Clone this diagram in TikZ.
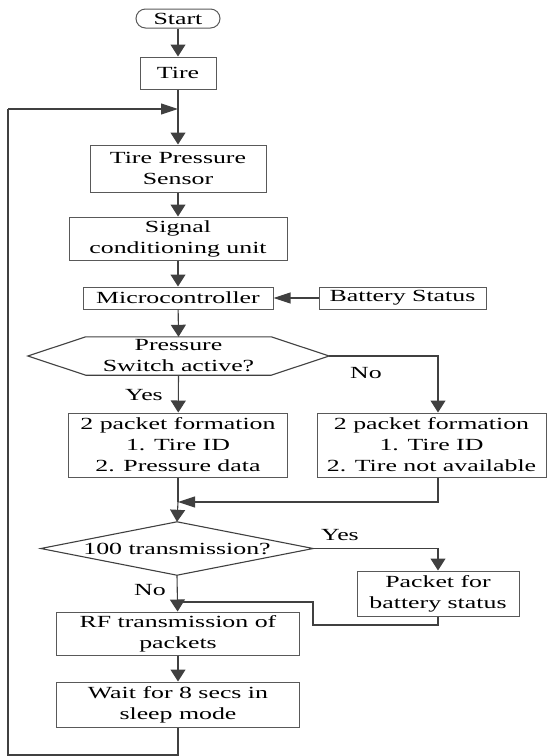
\documentclass[tikz,border=0pt]{standalone}
\usepackage{fontspec}
\setmainfont{Liberation Serif}[FakeStretch=1.52]
\usetikzlibrary{arrows.meta,calc}
\tikzset{
  txt/.style={font=\fontsize{17}{21}\selectfont, align=center, inner sep=0pt, text=black},
  box/.style={txt, draw=black!65, line width=1pt},
  lbl/.style={txt},
  ln/.style={draw=black!75, line width=1.1pt},
  va/.style={ln, -{Triangle[width=15pt,length=12pt]}},
  ha/.style={ln, -{Triangle[width=11pt,length=17pt]}},
}
\begin{document}
\begin{tikzpicture}[x=1pt,y=-1pt]
\useasboundingbox (0,0) rectangle (551,756);
% nodes
\node[box, rounded corners=9.5pt, minimum width=84pt, minimum height=19pt] (start) at (178,18.5) {Start};
\node[box, minimum width=76pt, minimum height=32pt] (tire) at (178,73) {Tire};
\node[box, minimum width=176pt, minimum height=47pt] (tps) at (178,168.5) {Tire Pressure\\Sensor};
\node[box, minimum width=218pt, minimum height=43pt] (sig) at (178,238.5) {Signal\\conditioning unit};
\node[box, minimum width=190pt, minimum height=22pt] (micro) at (178,298) {Microcontroller};
\node[box, minimum width=167pt, minimum height=22pt] (batt) at (402.5,298) {Battery Status};
\node[txt, minimum width=301pt, minimum height=38pt] (d1) at (178.5,356) {Pressure\\Switch active?};
\draw[ln] ([xshift=58pt]d1.north west) -- ([xshift=-58pt]d1.north east) -- (d1.east)
  -- ([xshift=-58pt]d1.south east) -- ([xshift=58pt]d1.south west) -- (d1.west) -- cycle;
\node[box, minimum width=218.5pt, minimum height=64pt] (p1) at (178,445) {2 packet formation\\1. Tire ID\\2. Pressure data};
\node[box, minimum width=229pt, minimum height=64pt] (p2) at (431.5,445) {2 packet formation\\1. Tire ID\\2. Tire not available};
\node[txt, minimum width=272pt, minimum height=53pt] (d2) at (177,548.5) {100 transmission?};
\draw[ln] (d2.west) -- (d2.north) -- (d2.east) -- (d2.south) -- cycle;
\node[box, minimum width=162pt, minimum height=45pt] (pb) at (438,593.5) {Packet for\\battery status};
\node[box, minimum width=243pt, minimum height=43pt] (rf) at (178,633.5) {RF transmission of\\packets};
\node[box, minimum width=243pt, minimum height=45pt] (wait) at (178,704.5) {Wait for 8 secs in\\sleep mode};
% labels
\node[lbl] (yes1) at (144,395) {Yes};
\node[lbl] (no1) at (366,373) {No};
\node[lbl] (yes2) at (340,535) {Yes};
\node[lbl] (no2) at (150,590) {No};
% coordinates
\coordinate (join) at (178,109);
\coordinate (nocorner) at (438,356);
\coordinate (merge) at (178,502);
\coordinate (yescorner) at (438,548.5);
\coordinate (rfjoin) at (178,602);
\coordinate (bb1) at (438,625);
\coordinate (bb2) at (313,625);
\coordinate (bb3) at (313,602);
\coordinate (lp1) at (178,755);
\coordinate (lp2) at (8,755);
\coordinate (lp3) at (8,109);
% connectors
\draw[va] (start) -- (tire);
\draw[va] (tire) -- (tps);
\draw[va] (tps) -- (sig);
\draw[va] (sig) -- (micro);
\draw[ha] (batt) -- (micro);
\draw[va] (micro) -- (d1.north);
\draw[va] (d1.south) -- (p1);
\draw[va] (d1.east) -- (nocorner) -- (nocorner |- p2.north);
\draw[ha] (nocorner |- p2.south) |- (merge);
\draw[ln] (p1) -- (merge);
\draw[va] (merge) -- (d2.north);
\draw[va] (d2.east) -- (yescorner) -- (pb);
\draw[va] (d2.south) -- (rf);
\draw[ln] (pb) -- (bb1) -- (bb2) -- (bb3) -- (rfjoin);
\draw[va] (rf) -- (wait);
\draw[ln] (wait) -- (lp1) -- (lp2) -- (lp3);
\draw[ha] (lp3) -- (join);
\end{tikzpicture}
\end{document}
